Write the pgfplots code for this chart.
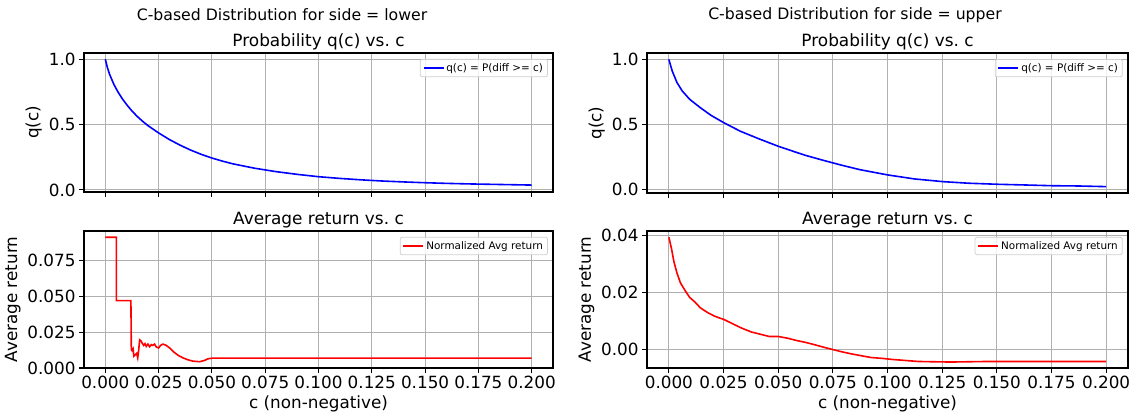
\documentclass[border=0pt]{standalone}
\usepackage{pgfplots}
\pgfplotsset{compat=1.18}
\usepackage{pgfplotstable}
\usepackage{fontspec}
\setmainfont{DejaVu Sans}

\definecolor{gridgray}{HTML}{B0B0B0}
\definecolor{mplblue}{HTML}{0000FF}
\definecolor{mplred}{HTML}{FF0000}

\newcommand{\ticksize}{\fontsize{16.8}{19}\selectfont}
\newcommand{\titlesize}{\fontsize{16.9}{19}\selectfont}
\newcommand{\supsize}{\fontsize{15.7}{18}\selectfont}
\newcommand{\legendsize}{\fontsize{10.4}{12}\selectfont}

% q(c) = P(diff >= c), side = lower
\pgfplotstableread{
c q
0.0000 1.000
0.0010 0.935
0.0020 0.885
0.0040 0.808
0.0060 0.748
0.0080 0.697
0.0100 0.653
0.0125 0.604
0.0150 0.562
0.0175 0.525
0.0200 0.492
0.0250 0.436
0.0300 0.386
0.0350 0.343
0.0400 0.305
0.0450 0.272
0.0500 0.244
0.0550 0.220
0.0600 0.199
0.0700 0.166
0.0800 0.140
0.0900 0.119
0.1000 0.101
0.1100 0.088
0.1200 0.077
0.1300 0.068
0.1400 0.061
0.1500 0.055
0.1600 0.050
0.1700 0.046
0.1800 0.043
0.1900 0.040
0.2000 0.037
}\qlower

% normalized average return, side = lower
\pgfplotstableread{
c r
0.0000 0.0914
0.0052 0.0914
0.0052 0.0471
0.0120 0.0471
0.0122 0.0128
0.0125 0.0122
0.0130 0.0135
0.0134 0.0083
0.0141 0.0094
0.0147 0.0103
0.0152 0.0071
0.0156 0.0117
0.0161 0.0197
0.0167 0.0190
0.0173 0.0174
0.0180 0.0158
0.0186 0.0170
0.0192 0.0151
0.0200 0.0167
0.0208 0.0149
0.0216 0.0163
0.0223 0.0158
0.0231 0.0167
0.0239 0.0147
0.0250 0.0140
0.0259 0.0158
0.0270 0.0167
0.0286 0.0158
0.0302 0.0140
0.0317 0.0117
0.0341 0.0089
0.0364 0.0071
0.0388 0.0057
0.0411 0.0048
0.0442 0.0044
0.0466 0.0053
0.0481 0.0064
0.0502 0.0069
0.2000 0.0069
}\rlower

% q(c) = P(diff >= c), side = upper
\pgfplotstableread{
c q
0.0000 1.000
0.0015 0.912
0.0037 0.822
0.0061 0.757
0.0095 0.693
0.0144 0.628
0.0194 0.568
0.0252 0.512
0.0327 0.447
0.0410 0.390
0.0501 0.331
0.0584 0.284
0.0626 0.261
0.0709 0.222
0.0792 0.185
0.0875 0.151
0.1001 0.111
0.1124 0.080
0.1256 0.059
0.1373 0.047
0.1505 0.039
0.1622 0.034
0.1754 0.028
0.1871 0.026
0.2000 0.021
}\qupper

% normalized average return, side = upper
\pgfplotstableread{
c r
0.0000 0.0395
0.0012 0.0355
0.0023 0.0309
0.0037 0.0269
0.0053 0.0234
0.0075 0.0206
0.0095 0.0183
0.0120 0.0166
0.0144 0.0146
0.0178 0.0129
0.0211 0.0116
0.0252 0.0105
0.0294 0.0089
0.0335 0.0074
0.0377 0.0061
0.0418 0.0053
0.0460 0.0045
0.0501 0.0045
0.0543 0.0039
0.0584 0.0031
0.0626 0.0024
0.0667 0.0016
0.0709 0.0007
0.0750 -0.0001
0.0792 -0.0009
0.0833 -0.0016
0.0875 -0.0022
0.0924 -0.0029
0.0974 -0.0032
0.1024 -0.0036
0.1074 -0.0039
0.1140 -0.0043
0.1207 -0.0044
0.1290 -0.0045
0.1373 -0.0044
0.1456 -0.0043
0.1539 -0.0043
0.1705 -0.0043
0.2000 -0.0043
}\rupper

\pgfplotsset{
  panel/.style={
    scale only axis, anchor=south west,
    xmin=-0.01, xmax=0.21,
    xtick={0,0.025,0.05,0.075,0.1,0.125,0.15,0.175,0.2},
    scaled ticks=false,
    grid=major,
    major grid style={draw=gridgray, line width=1.1pt},
    axis line style={line width=1.1pt, black},
    tick align=outside, tick pos=left,
    major tick length=4.9pt,
    every tick/.style={black, line width=1.1pt},
    tick label style={font=\ticksize},
    /pgf/number format/assume math mode=true,
    xticklabel style={/pgf/number format/.cd, fixed, fixed zerofill, precision=3},
    title style={font=\titlesize, yshift=-7pt},
    label style={font=\ticksize},
    legend cell align=left,
    legend image code/.code={\draw[##1] (0pt,0pt) -- (20pt,0pt);},
    legend style={
      font=\legendsize, draw=black!18, line width=0.8pt,
      rounded corners=2pt, fill=white, fill opacity=0.8, text opacity=1,
      inner xsep=2.5pt, inner ysep=2pt,
      at={(0.989,0.957)}, anchor=north east,
    },
  },
  qpanel/.style={
    panel, xticklabels={},
    ytick={0,0.5,1},
    yticklabel style={/pgf/number format/.cd, fixed, fixed zerofill, precision=1},
    title={Probability q(c) vs.\ c}, ylabel={q(c)},
  },
  rpanel/.style={
    panel, title={Average return vs.\ c},
    ylabel={Average return}, xlabel={c (non-negative)},
  },
}

\begin{document}
\begin{tikzpicture}[x=1pt,y=1pt]
\path[use as bounding box] (0,0) rectangle (1138,417);

\node[font=\supsize] at (282,402) {C-based Distribution for side = lower};
\node[font=\supsize] at (855,402) {C-based Distribution for side = upper};

% side = lower
\begin{axis}[qpanel, at={(84pt,225pt)}, width=469pt, height=139pt,
  ymin=-0.016, ymax=1.048]
  \addplot[mplblue, line width=1.6pt] table[x=c, y=q] {\qlower};
  \addlegendentry{q(c) = P(diff >= c)}
\end{axis}
\begin{axis}[rpanel, at={(84pt,49pt)}, width=469pt, height=137pt,
  ymin=0, ymax=0.0958,
  ytick={0,0.025,0.05,0.075},
  yticklabel style={/pgf/number format/.cd, fixed, fixed zerofill, precision=3}]
  \addplot[mplred, line width=1.6pt] table[x=c, y=r] {\rlower};
  \addlegendentry{Normalized Avg return}
\end{axis}

% side = upper
\begin{axis}[qpanel, at={(647pt,224pt)}, width=481pt, height=140pt,
  ymin=-0.028, ymax=1.049]
  \addplot[mplblue, line width=1.6pt] table[x=c, y=q] {\qupper};
  \addlegendentry{q(c) = P(diff >= c)}
\end{axis}
\begin{axis}[rpanel, at={(647pt,49pt)}, width=481pt, height=137pt,
  ymin=-0.0066, ymax=0.0417,
  ytick={0,0.02,0.04},
  yticklabel style={/pgf/number format/.cd, fixed, fixed zerofill, precision=2}]
  \addplot[mplred, line width=1.6pt] table[x=c, y=r] {\rupper};
  \addlegendentry{Normalized Avg return}
\end{axis}
\end{tikzpicture}
\end{document}
